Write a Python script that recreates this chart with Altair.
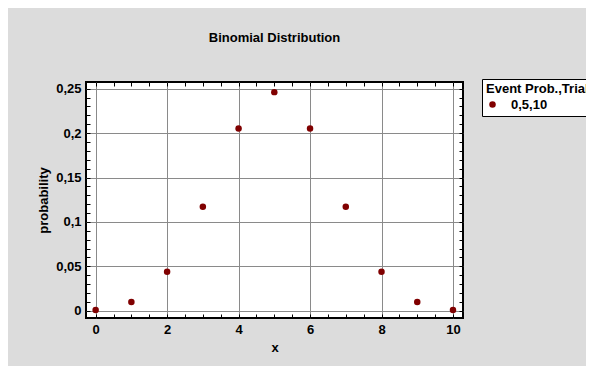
import altair as alt
import pandas as pd

# ---- data ----
x_vals = [0, 1, 2, 3, 4, 5, 6, 7, 8, 9, 10]
prob = [0.001, 0.0098, 0.0439, 0.1172, 0.2051, 0.2461, 0.2051, 0.1172, 0.0439, 0.0098, 0.001]
series = ["0,5,10"] * len(x_vals)

x_major = [0, 2, 4, 6, 8, 10]
y_major = [0, 0.05, 0.1, 0.15, 0.2, 0.25]
x_minor = [0, 0.5, 1, 1.5, 2, 2.5, 3, 3.5, 4, 4.5, 5, 5.5, 6, 6.5, 7, 7.5, 8, 8.5, 9, 9.5, 10]
y_minor = [0, 0.01, 0.02, 0.03, 0.04, 0.05, 0.06, 0.07, 0.08, 0.09, 0.1, 0.11, 0.12,
           0.13, 0.14, 0.15, 0.16, 0.17, 0.18, 0.19, 0.2, 0.21, 0.22, 0.23, 0.24, 0.25]
x_domain = [-0.27, 10.28]
y_domain = [-0.0081, 0.2575]

df = pd.DataFrame({"x": x_vals, "probability": prob, "series": series})

W, H = 377, 236
F = "Arial, Liberation Sans, sans-serif"
fmt = "replace(format(datum.value, '.2~f'), '.', ',')"
GRID = "#8a8a8a"

xs = alt.Scale(domain=x_domain, nice=False, zero=False)
ys = alt.Scale(domain=y_domain, nice=False, zero=False)

points = alt.Chart(df).mark_point(filled=True, size=42, opacity=1, color="#800000").encode(
    x=alt.X("x:Q", scale=xs, axis=alt.Axis(
        orient="bottom", values=x_major, grid=True, gridColor=GRID, gridOpacity=1,
        ticks=False, domain=False, labelExpr=fmt, labelFlush=False, labelOverlap=False,
        labelFont=F, labelFontSize=13, labelFontWeight="bold", labelColor="black",
        labelPadding=5, title="x", titleFont=F, titleFontSize=13, titleFontWeight="bold",
        titleColor="black", titlePadding=5)),
    y=alt.Y("probability:Q", scale=ys, axis=alt.Axis(
        orient="left", values=y_major, grid=True, gridColor=GRID, gridOpacity=1,
        ticks=False, domain=False, labelExpr=fmt, labelFlush=False, labelOverlap=False,
        labelFont=F, labelFontSize=13, labelFontWeight="bold", labelColor="black",
        labelPadding=5, title="probability", titleFont=F, titleFontSize=13,
        titleFontWeight="bold", titleColor="black", titlePadding=5)),
    color=alt.Color("series:N", scale=alt.Scale(range=["#800000"]), legend=alt.Legend(
        title="Event Prob.,Trials", orient="none", legendX=396, legendY=-3,
        strokeColor="black", fillColor="white", padding=4,
        titleFont=F, titleFontSize=13, titleFontWeight="bold", titleColor="black",
        titlePadding=2, labelFont=F, labelFontSize=13, labelFontWeight="bold",
        labelColor="black", symbolType="circle", symbolSize=42,
        symbolFillColor="#800000", symbolStrokeWidth=0, labelOffset=12)),
)


def tick_axis(orient, vals, offset):
    return alt.Axis(orient=orient, values=vals, offset=offset, grid=False, labels=False,
                    domain=False, ticks=True, tickSize=4, tickColor="black", tickWidth=1,
                    title=None)


# inward ticks: bottom edge (top-oriented axis moved down) and left edge (right axis moved left)
ticks_a = alt.Chart(df).mark_point(opacity=0).encode(
    x=alt.X("x:Q", scale=xs, axis=tick_axis("top", x_minor, -H)),
    y=alt.Y("probability:Q", scale=ys, axis=tick_axis("right", y_minor, -W)),
)
# inward ticks: top edge and right edge
ticks_b = alt.Chart(df).mark_point(opacity=0).encode(
    x=alt.X("x:Q", scale=xs, axis=tick_axis("bottom", x_minor, -H)),
    y=alt.Y("probability:Q", scale=ys, axis=tick_axis("left", y_minor, -W)),
)

chart = alt.layer(points, ticks_a, ticks_b).resolve_scale(
    x="independent", y="independent"
).properties(
    width=W, height=H,
    title=alt.Title("Binomial Distribution", font=F, fontSize=13, fontWeight="bold",
                    color="black", anchor="middle", baseline="alphabetic", offset=24),
    autosize=alt.AutoSizeParams(type="none"),
    padding={"left": 78, "top": 74, "right": 123, "bottom": 48},
    background="#dcdcdc",
).configure_view(stroke="black", strokeWidth=2, fill="white")

chart.save("out.html", embed_options={"renderer": "svg", "actions": False})
